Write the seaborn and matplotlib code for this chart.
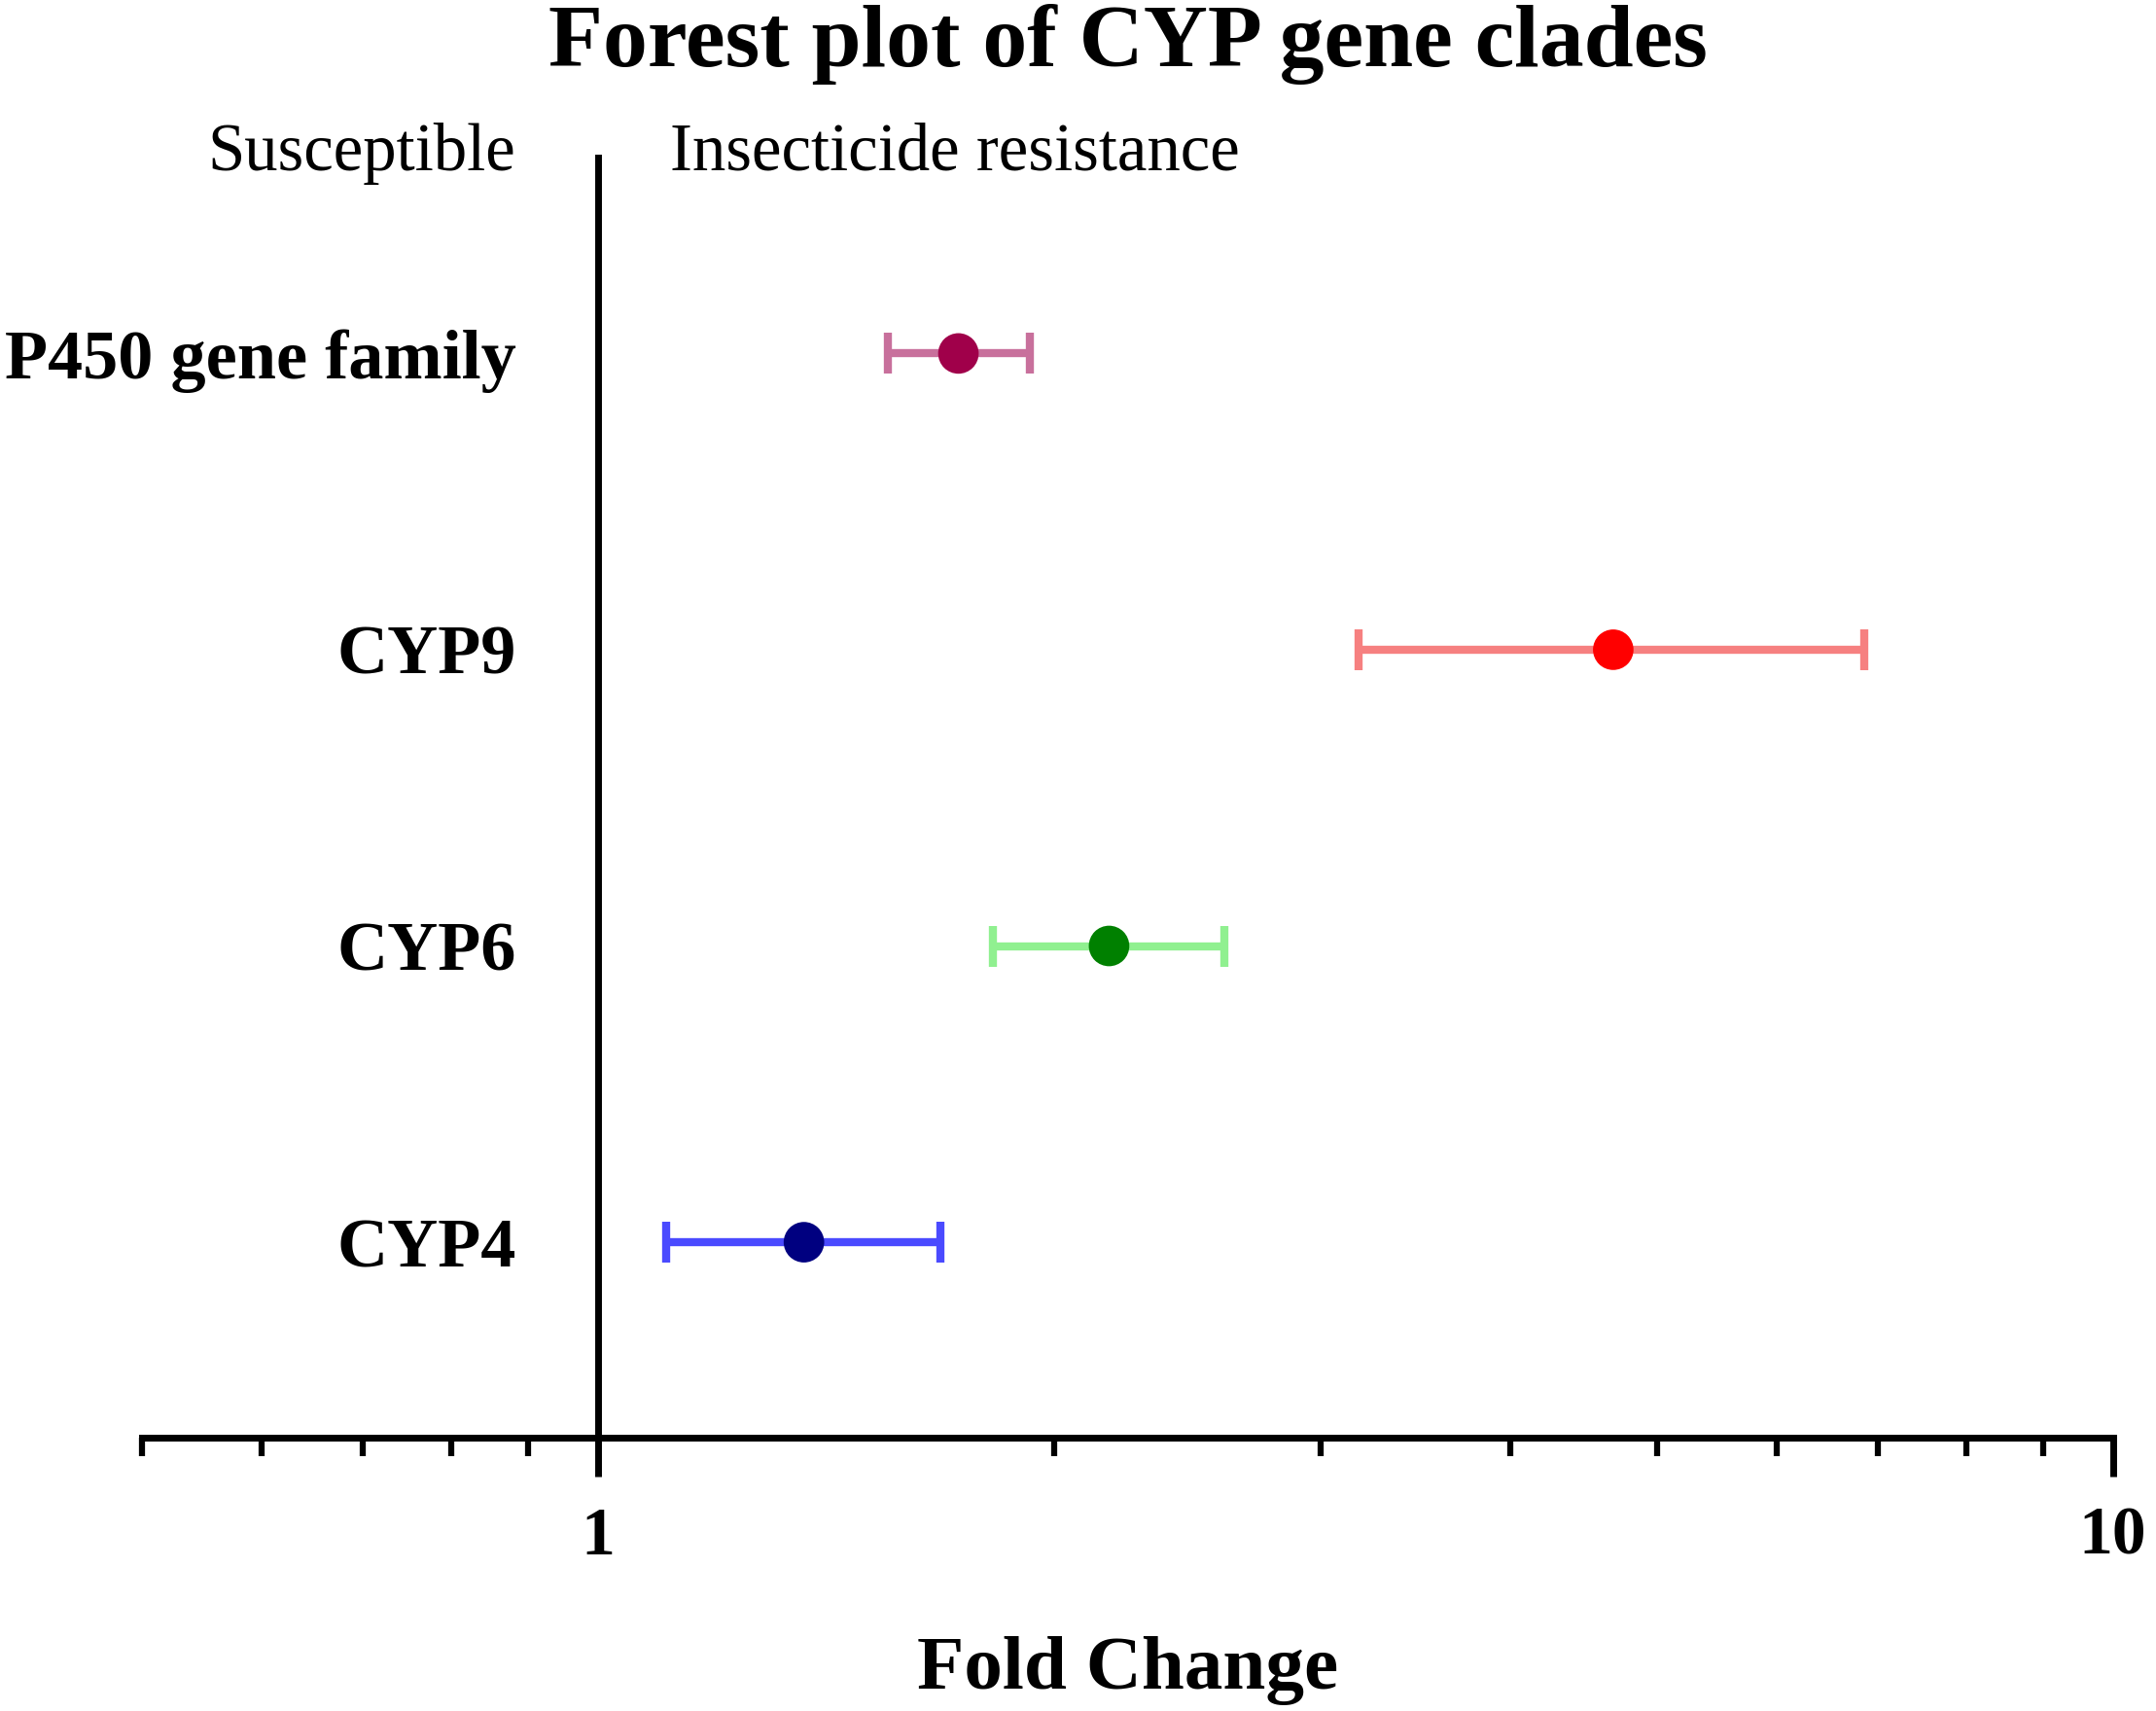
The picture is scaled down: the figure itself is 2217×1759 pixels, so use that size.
import numpy as np
import pandas as pd
import matplotlib
matplotlib.use('Agg')
import matplotlib.pyplot as plt
import seaborn as sns
from matplotlib.ticker import FixedLocator, NullFormatter

# =====================================================================
# 데이터
# =====================================================================
clades = ['P450 gene family', 'CYP9', 'CYP6', 'CYP4']
fold_change = [1.73, 4.68, 2.175, 1.368]
ci_low = [1.553, 3.18, 1.824, 1.11]
ci_high = [1.927, 6.85, 2.59, 1.684]

marker_colors = ['#A0004A', '#FF0000', '#008000', '#000080']
bar_colors = ['#C8709C', '#F68080', '#90F090', '#4A4AFF']

major_ticks = [1, 10]
major_labels = ['1', '10']
minor_ticks = [0.5, 0.6, 0.7, 0.8, 0.9, 2, 3, 4, 5, 6, 7, 8, 9]

# =====================================================================
# 스타일 / 폰트
# =====================================================================
sns.set_theme(style='white')
plt.rcParams['font.family'] = ['Liberation Serif', 'DejaVu Serif']
plt.rcParams['text.color'] = 'black'
plt.rcParams['axes.labelcolor'] = 'black'
plt.rcParams['xtick.color'] = 'black'
plt.rcParams['ytick.color'] = 'black'

df = pd.DataFrame({
    'clade': clades,
    'fc': fold_change,
    'lo': ci_low,
    'hi': ci_high,
    'pos': np.arange(len(clades))[::-1],
})

fig = plt.figure(figsize=(22.17, 17.59), dpi=100)
ax = fig.add_axes([0.0657, 0.1597, 0.9143, 0.748])
ax.set_xscale('log')

# 오차 막대
for i, row in df.iterrows():
    ax.errorbar(row['fc'], row['pos'],
                xerr=[[row['fc'] - row['lo']], [row['hi'] - row['fc']]],
                fmt='none', ecolor=bar_colors[i], elinewidth=6,
                capsize=15, capthick=6, zorder=2)

# 점
sns.scatterplot(data=df, x='fc', y='pos', hue='clade', palette=marker_colors,
                s=900, edgecolor='none', legend=False, ax=ax, zorder=3)

ax.set_xlim(0.5, 10)
ax.set_ylim(-0.66, 3.66)

# 축 / 스파인
for s in ['top', 'right']:
    ax.spines[s].set_visible(False)
ax.spines['left'].set_position(('data', 1))
for s in ['left', 'bottom']:
    ax.spines[s].set_linewidth(5)
    ax.spines[s].set_color('black')

ax.xaxis.set_major_locator(FixedLocator(major_ticks))
ax.set_xticklabels(major_labels)
ax.xaxis.set_minor_locator(FixedLocator(minor_ticks))
ax.xaxis.set_minor_formatter(NullFormatter())
ax.tick_params(axis='x', which='major', bottom=True, length=29, width=5,
               direction='out', pad=22, labelsize=50, color='black')
ax.tick_params(axis='x', which='minor', bottom=True, length=14, width=4.5,
               direction='out', color='black')
for lab in ax.get_xticklabels():
    lab.set_fontweight('bold')

ax.set_yticks(df['pos'])
ax.set_yticklabels(df['clade'], fontsize=52, fontweight='bold')
ax.tick_params(axis='y', length=0, pad=60)

ax.set_xlabel('Fold Change', fontsize=57, fontweight='bold')
ax.xaxis.set_label_coords(0.5, -0.182)
ax.xaxis.label.set_va('center')
ax.set_ylabel('')

# 제목 / 방향 라벨
fig.text(0.523, 0.974, 'Forest plot of CYP gene clades', fontsize=66,
         fontweight='bold', ha='center', va='center')
fig.text(530 / 2217, 1 - 158 / 1759, 'Susceptible', fontsize=49.5,
         ha='right', va='center')
fig.text(689 / 2217, 1 - 158 / 1759, 'Insecticide resistance', fontsize=49.5,
         ha='left', va='center')

fig.savefig('out.png', dpi=100, facecolor='white')
